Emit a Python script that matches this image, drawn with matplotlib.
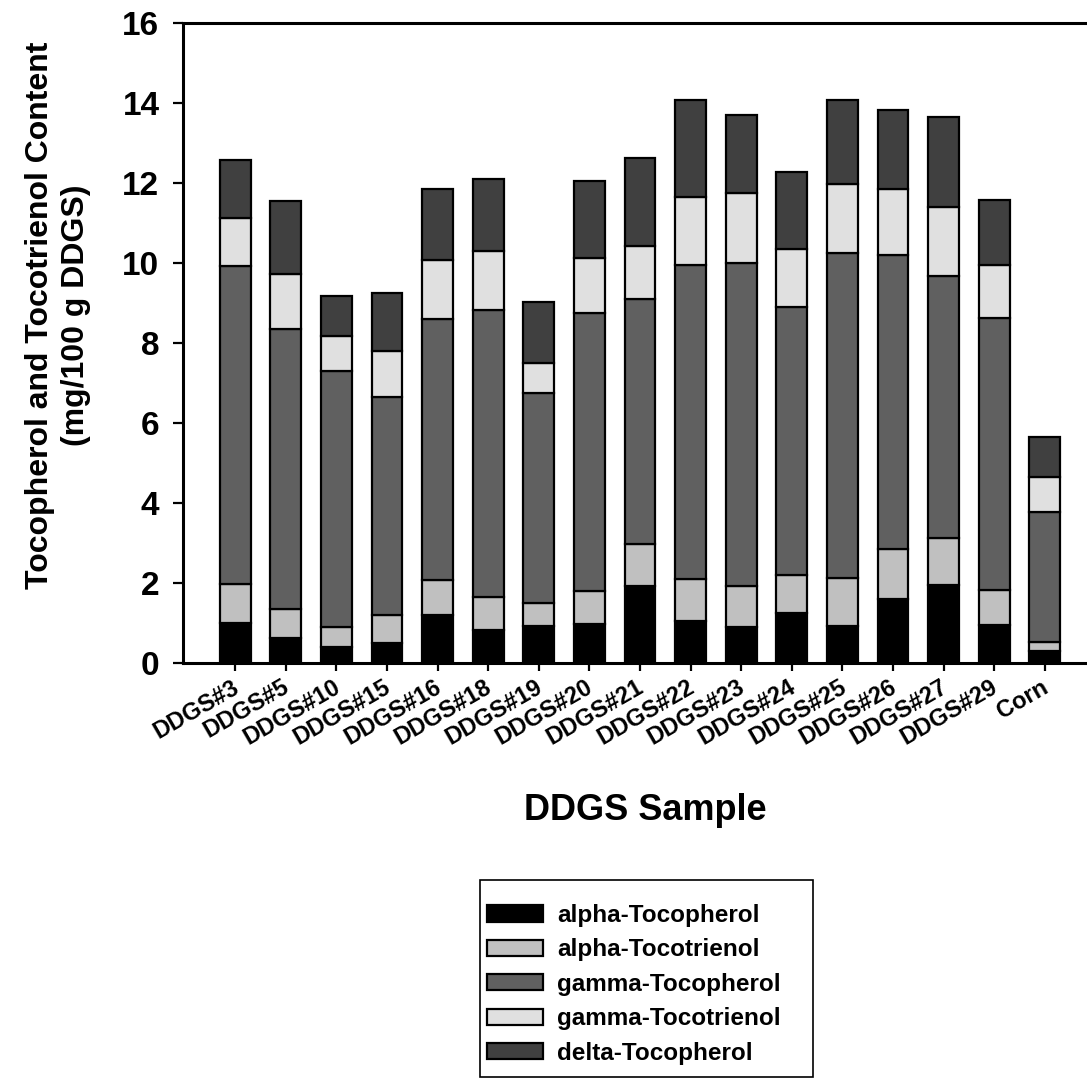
import matplotlib
matplotlib.use('Agg')
import matplotlib.pyplot as plt
import matplotlib.patches as mpatches
import matplotlib.transforms as mtransforms
import numpy as np

plt.rcParams['font.family'] = ['Liberation Sans', 'DejaVu Sans']
plt.rcParams['font.weight'] = 'bold'

# Veriler (mg/100 g DDGS)
ornekler = ['DDGS#3', 'DDGS#5', 'DDGS#10', 'DDGS#15', 'DDGS#16', 'DDGS#18', 'DDGS#19',
            'DDGS#20', 'DDGS#21', 'DDGS#22', 'DDGS#23', 'DDGS#24', 'DDGS#25', 'DDGS#26',
            'DDGS#27', 'DDGS#29', 'Corn']
alpha_tocopherol = [1.00, 0.62, 0.39, 0.50, 1.20, 0.82, 0.93, 0.97, 1.93, 1.06, 0.91, 1.26, 0.93, 1.60, 1.95, 0.94, 0.30]
alpha_tocotrienol = [0.97, 0.73, 0.52, 0.70, 0.87, 0.83, 0.56, 0.83, 1.04, 1.03, 1.02, 0.94, 1.19, 1.26, 1.18, 0.89, 0.22]
gamma_tocopherol = [7.96, 6.99, 6.39, 5.46, 6.54, 7.17, 5.25, 6.95, 6.13, 7.86, 8.06, 6.71, 8.14, 7.33, 6.55, 6.80, 3.26]
gamma_tocotrienol = [1.19, 1.39, 0.87, 1.14, 1.47, 1.49, 0.77, 1.38, 1.33, 1.69, 1.75, 1.43, 1.71, 1.66, 1.71, 1.33, 0.86]
delta_tocopherol = [1.45, 1.82, 1.01, 1.46, 1.77, 1.80, 1.52, 1.92, 2.20, 2.43, 1.97, 1.94, 2.10, 1.98, 2.26, 1.62, 1.02]

seriler = [
    ('alpha-Tocopherol', alpha_tocopherol, '#000000'),
    ('alpha-Tocotrienol', alpha_tocotrienol, '#c0c0c0'),
    ('gamma-Tocopherol', gamma_tocopherol, '#606060'),
    ('gamma-Tocotrienol', gamma_tocotrienol, '#e0e0e0'),
    ('delta-Tocopherol', delta_tocopherol, '#404040'),
]

fig = plt.figure(figsize=(10.87, 10.8), dpi=100)
ax = fig.add_axes([183 / 1087, 417 / 1080, 914 / 1087, 640 / 1080])

x = np.arange(len(ornekler))
alt = np.zeros(len(ornekler))
for ad, deger, renk in seriler:
    ax.bar(x, deger, width=0.61, bottom=alt, color=renk, edgecolor='black', linewidth=1.6, label=ad)
    alt = alt + np.array(deger)

ax.set_xlim(-1.03, 17.03)
ax.set_ylim(0, 16)
ax.set_yticks(range(0, 17, 2))
ax.set_xticks(x)
ax.set_xticklabels(ornekler, rotation=30, ha='right', va='top', rotation_mode='anchor', fontsize=17, fontweight='bold')
ax.tick_params(axis='y', labelsize=24, length=7, width=1.6, pad=10, direction='out')
ax.tick_params(axis='x', length=6, width=1.6, pad=3, direction='out')
for lbl in ax.get_yticklabels():
    lbl.set_fontweight('bold')

# etiketleri biraz sola kaydir
kaydir = mtransforms.ScaledTranslation(-4 / 100, 0, fig.dpi_scale_trans)
for lbl in ax.get_xticklabels():
    lbl.set_transform(lbl.get_transform() + kaydir)

for s in ['left', 'bottom', 'top', 'right']:
    ax.spines[s].set_linewidth(2.2)

ax.set_ylabel('Tocopherol and Tocotrienol Content\n(mg/100 g DDGS)', fontsize=23, fontweight='bold', linespacing=1.25)
ax.yaxis.set_label_coords(-0.137, 0.544)
ax.yaxis.label.set_va('center')
ax.set_xlabel('DDGS Sample', fontsize=26, fontweight='bold')
ax.xaxis.set_label_coords(0.5055, -0.2297)
ax.xaxis.label.set_va('center')

# Lejant kutusu ayri ciziliyor
kutu = mpatches.Rectangle((480 / 1087, 3 / 1080), 333 / 1087, (1077 - 880) / 1080,
                          transform=fig.transFigure, fill=False, edgecolor='black', linewidth=1.2)
fig.patches.append(kutu)

leg = fig.legend(loc='upper left', bbox_to_anchor=(487 / 1087, 1 - 904 / 1080), frameon=False,
                 prop={'size': 17.5, 'weight': 'bold'}, handlelength=2.3, handleheight=0.65,
                 handletextpad=0.6, labelspacing=0.47, borderpad=0, borderaxespad=0)

fig.savefig('out.png', dpi=100)
